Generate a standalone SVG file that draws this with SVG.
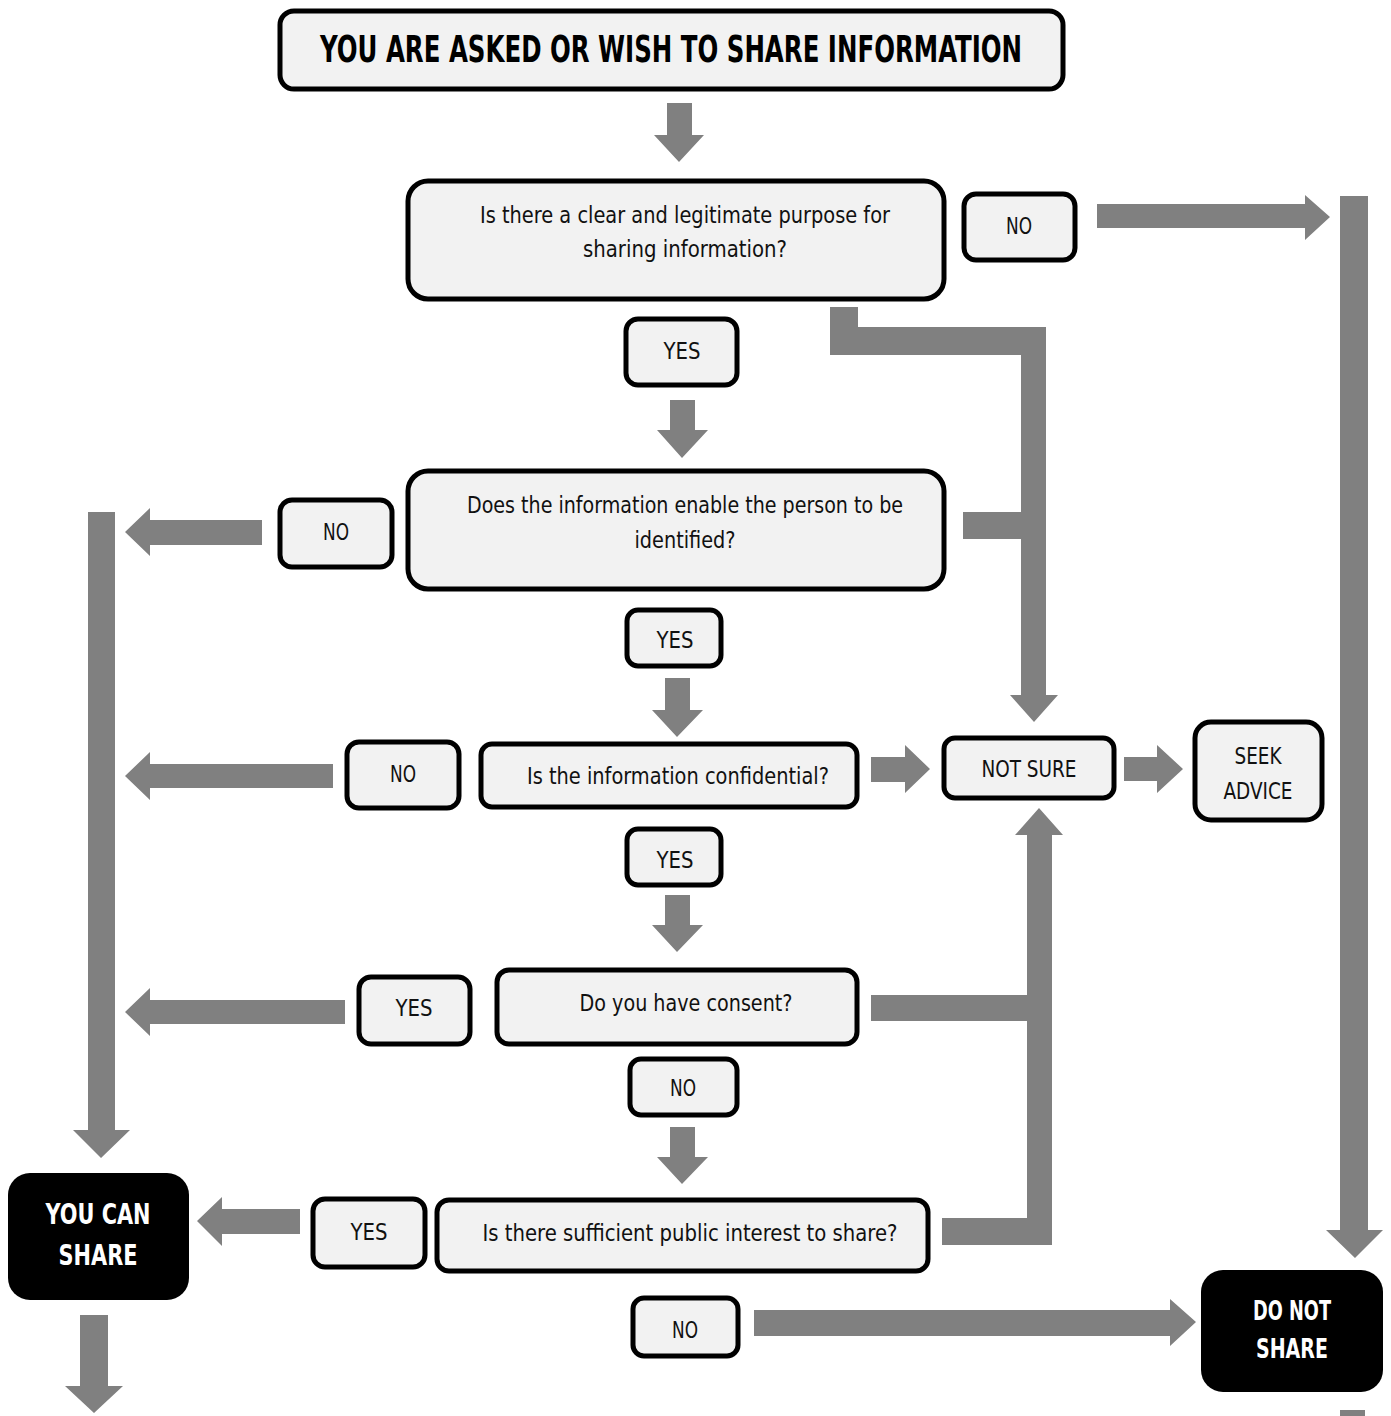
<svg xmlns="http://www.w3.org/2000/svg" width="1391" height="1416" viewBox="0 0 1391 1416">
<style>
.box{fill:#f2f2f2;stroke:#000;stroke-width:5}
.term{fill:#000}
.arr{fill:#808080}
.t{font-family:"Liberation Sans Narrow","DejaVu Sans Condensed","Liberation Sans",sans-serif;font-size:23px;fill:#111;text-anchor:middle}
.tb{font-family:"Liberation Sans Narrow","DejaVu Sans Condensed","Liberation Sans",sans-serif;font-weight:bold;text-anchor:middle}
</style>
<rect width="1391" height="1416" fill="#fff"/>
<g id="connectors">
  <!-- start -> Q1 -->
  <polygon class="arr" points="667,103 692,103 692,135 704,135 679,162 654,135 667,135"/>
  <!-- Q1 NO -> right -->
  <polygon class="arr" points="1097,204 1305,204 1305,195 1330,217 1305,240 1305,228 1097,228"/>
  <!-- right vertical bar to DO NOT SHARE -->
  <polygon class="arr" points="1340,196 1368,196 1368,1230 1383,1230 1355,1258 1326,1230 1340,1230"/>
  <!-- YES -> Q2 -->
  <polygon class="arr" points="670,400 695,400 695,430 708,430 682,458 657,430 670,430"/>
  <!-- upper bracket to NOT SURE -->
  <polygon class="arr" points="830,307 858,307 858,327 1046,327 1046,695 1058,695 1034,722 1010,695 1021,695 1021,539 963,539 963,512 1021,512 1021,355 830,355"/>
  <!-- Q2 NO -> left -->
  <polygon class="arr" points="262,520 262,545 150,545 150,556 125,532 150,508 150,520"/>
  <!-- left vertical bar to YOU CAN SHARE -->
  <polygon class="arr" points="88,512 115,512 115,1130 130,1130 101,1158 73,1130 88,1130"/>
  <!-- YES -> Q3 -->
  <polygon class="arr" points="665,678 690,678 690,710 703,710 677,737 652,710 665,710"/>
  <!-- Q3 NO -> left -->
  <polygon class="arr" points="333,764 333,788 150,788 150,800 125,776 150,752 150,764"/>
  <!-- Q3 -> NOT SURE -->
  <polygon class="arr" points="871,757 905,757 905,745 930,769 905,793 905,782 871,782"/>
  <!-- NOT SURE -> SEEK ADVICE -->
  <polygon class="arr" points="1124,757 1157,757 1157,745 1183,769 1157,793 1157,781 1124,781"/>
  <!-- lower bracket up to NOT SURE -->
  <polygon class="arr" points="1039,808 1063,835 1052,835 1052,1245 942,1245 942,1218 1027,1218 1027,1021 871,1021 871,995 1027,995 1027,835 1015,835"/>
  <!-- YES -> Q4 -->
  <polygon class="arr" points="665,895 690,895 690,925 703,925 677,952 652,925 665,925"/>
  <!-- Q4 YES -> left -->
  <polygon class="arr" points="345,1000 345,1024 150,1024 150,1036 125,1012 150,988 150,1000"/>
  <!-- NO -> Q5 -->
  <polygon class="arr" points="670,1127 695,1127 695,1157 708,1157 682,1184 657,1157 670,1157"/>
  <!-- Q5 YES -> YOU CAN SHARE -->
  <polygon class="arr" points="300,1209 300,1234 222,1234 222,1246 197,1221 222,1197 222,1209"/>
  <!-- YOU CAN SHARE down -->
  <polygon class="arr" points="80,1315 108,1315 108,1386 123,1386 94,1413 65,1386 80,1386"/>
  <!-- Q5 NO -> DO NOT SHARE -->
  <polygon class="arr" points="754,1310 1170,1310 1170,1299 1196,1322 1170,1346 1170,1336 754,1336"/>
  <!-- cut-off connector at bottom right -->
  <rect class="arr" x="1340" y="1410" width="25" height="6"/>
</g>
<g id="start">
  <rect class="box" x="280" y="11" width="783" height="78" rx="14"/>
  <text class="tb" x="671" y="62" font-size="37" textLength="702" lengthAdjust="spacingAndGlyphs">YOU ARE ASKED OR WISH TO SHARE INFORMATION</text>
</g>
<g id="q1">
  <rect class="box" x="408" y="181" width="536" height="118" rx="20"/>
  <text class="t" x="685" y="223" textLength="410" lengthAdjust="spacingAndGlyphs">Is there a clear and legitimate purpose for</text>
  <text class="t" x="685" y="257" textLength="204" lengthAdjust="spacingAndGlyphs">sharing information?</text>
</g>
<g id="q1-no">
  <rect class="box" x="964" y="194" width="111" height="66" rx="12"/>
  <text class="t" x="1019" y="234" textLength="26" lengthAdjust="spacingAndGlyphs">NO</text>
</g>
<g id="q1-yes">
  <rect class="box" x="626" y="319" width="111" height="66" rx="12"/>
  <text class="t" x="682" y="359" textLength="37" lengthAdjust="spacingAndGlyphs">YES</text>
</g>
<g id="q2">
  <rect class="box" x="408" y="471" width="536" height="118" rx="20"/>
  <text class="t" x="685" y="513" textLength="436" lengthAdjust="spacingAndGlyphs">Does the information enable the person to be</text>
  <text class="t" x="685" y="548" textLength="101" lengthAdjust="spacingAndGlyphs">identified?</text>
</g>
<g id="q2-no">
  <rect class="box" x="280" y="500" width="112" height="67" rx="12"/>
  <text class="t" x="336" y="540" textLength="26" lengthAdjust="spacingAndGlyphs">NO</text>
</g>
<g id="q2-yes">
  <rect class="box" x="627" y="610" width="94" height="56" rx="11"/>
  <text class="t" x="675" y="648" textLength="37" lengthAdjust="spacingAndGlyphs">YES</text>
</g>
<g id="q3">
  <rect class="box" x="481" y="744" width="376" height="63" rx="11"/>
  <text class="t" x="678" y="784" textLength="302" lengthAdjust="spacingAndGlyphs">Is the information confidential?</text>
</g>
<g id="q3-no">
  <rect class="box" x="347" y="742" width="112" height="66" rx="12"/>
  <text class="t" x="403" y="782" textLength="26" lengthAdjust="spacingAndGlyphs">NO</text>
</g>
<g id="not-sure">
  <rect class="box" x="944" y="738" width="170" height="60" rx="11"/>
  <text class="t" x="1029" y="777" textLength="95" lengthAdjust="spacingAndGlyphs">NOT SURE</text>
</g>
<g id="seek-advice">
  <rect class="box" x="1195" y="722" width="127" height="98" rx="16"/>
  <text class="t" x="1258" y="764" textLength="47" lengthAdjust="spacingAndGlyphs">SEEK</text>
  <text class="t" x="1258" y="799" textLength="69" lengthAdjust="spacingAndGlyphs">ADVICE</text>
</g>
<g id="q3-yes">
  <rect class="box" x="627" y="829" width="94" height="56" rx="11"/>
  <text class="t" x="675" y="868" textLength="37" lengthAdjust="spacingAndGlyphs">YES</text>
</g>
<g id="q4">
  <rect class="box" x="497" y="970" width="360" height="74" rx="12"/>
  <text class="t" x="686" y="1011" textLength="213" lengthAdjust="spacingAndGlyphs">Do you have consent?</text>
</g>
<g id="q4-yes">
  <rect class="box" x="359" y="977" width="111" height="67" rx="12"/>
  <text class="t" x="414" y="1016" textLength="37" lengthAdjust="spacingAndGlyphs">YES</text>
</g>
<g id="q4-no">
  <rect class="box" x="630" y="1059" width="107" height="56" rx="11"/>
  <text class="t" x="683" y="1096" textLength="26" lengthAdjust="spacingAndGlyphs">NO</text>
</g>
<g id="q5">
  <rect class="box" x="437" y="1200" width="491" height="71" rx="12"/>
  <text class="t" x="690" y="1241" textLength="415" lengthAdjust="spacingAndGlyphs">Is there sufficient public interest to share?</text>
</g>
<g id="q5-yes">
  <rect class="box" x="313" y="1199" width="112" height="68" rx="12"/>
  <text class="t" x="369" y="1240" textLength="37" lengthAdjust="spacingAndGlyphs">YES</text>
</g>
<g id="q5-no">
  <rect class="box" x="633" y="1298" width="105" height="58" rx="11"/>
  <text class="t" x="685" y="1338" textLength="26" lengthAdjust="spacingAndGlyphs">NO</text>
</g>
<g id="you-can-share">
  <rect class="term" x="8" y="1173" width="181" height="127" rx="22"/>
  <text class="tb" x="98" y="1224" font-size="29" fill="#fff" textLength="105" lengthAdjust="spacingAndGlyphs">YOU CAN</text>
  <text class="tb" x="98" y="1265" font-size="29" fill="#fff" textLength="79" lengthAdjust="spacingAndGlyphs">SHARE</text>
</g>
<g id="do-not-share">
  <rect class="term" x="1201" y="1270" width="182" height="122" rx="22"/>
  <text class="tb" x="1292" y="1320" font-size="27" fill="#fff" textLength="78" lengthAdjust="spacingAndGlyphs">DO NOT</text>
  <text class="tb" x="1292" y="1358" font-size="27" fill="#fff" textLength="72" lengthAdjust="spacingAndGlyphs">SHARE</text>
</g>
</svg>
